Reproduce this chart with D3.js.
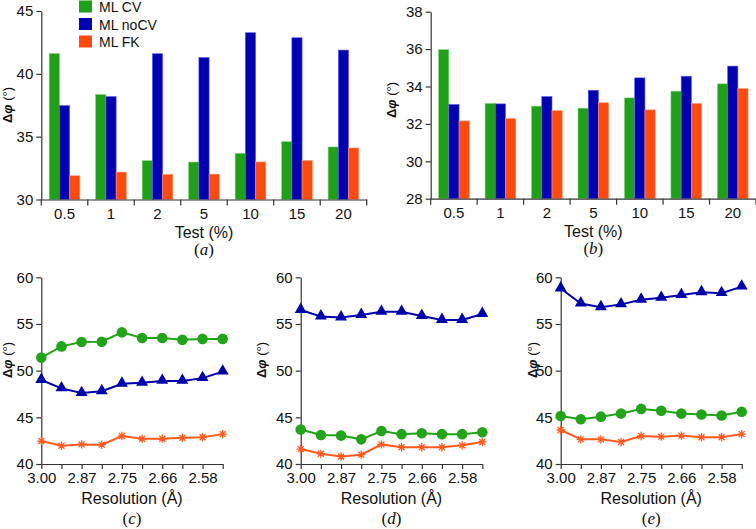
<!DOCTYPE html>
<html><head><meta charset="utf-8">
<script src="https://cdn.jsdelivr.net/npm/d3@7"></script>
<style>
html,body{margin:0;padding:0;background:#fff;}
svg{display:block;}
text{font-family:"Liberation Sans",Arial,sans-serif;fill:#111;}
</style></head><body>
<svg id="chart" width="756" height="529"></svg>
<script>
// ---- data ----
const tests = ["0.5","1","2","5","10","15","20"];
const seriesNames = ["ML CV","ML noCV","ML FK"];
const aCV   = [41.62, 38.35, 33.09, 32.98, 33.67, 34.60, 34.18];
const aNoCV = [37.47, 38.19, 41.60, 41.30, 43.27, 42.87, 41.89];
const aFK   = [31.89, 32.18, 32.00, 32.02, 32.99, 33.10, 34.10];
const bCV   = [35.97, 33.09, 32.95, 32.84, 33.39, 33.75, 34.14];
const bNoCV = [33.04, 33.07, 33.46, 33.80, 34.46, 34.55, 35.09];
const bFK   = [32.16, 32.29, 32.71, 33.13, 32.75, 33.09, 33.89];
const aTicks = [30, 35, 40, 45];
const bTicks = [28, 30, 32, 34, 36, 38];

const resolution = ["3.00","2.93","2.87","2.81","2.75","2.70","2.66","2.62","2.58","2.54"];
const resShown = ["3.00","2.87","2.75","2.66","2.58"];
const lineTicks = [40, 45, 50, 55, 60];
const cCV   = [51.4, 52.6, 53.07, 53.1, 54.1, 53.5, 53.5, 53.3, 53.4, 53.4];
const cNoCV = [49.0, 48.1, 47.6, 47.8, 48.6, 48.7, 48.9, 48.9, 49.2, 49.9];
const cFK   = [42.46, 41.96, 42.1, 42.07, 43.0, 42.7, 42.7, 42.8, 42.86, 43.2];
const dCV   = [43.7, 43.1, 43.04, 42.64, 43.54, 43.2, 43.3, 43.2, 43.2, 43.4];
const dNoCV = [56.5, 55.8, 55.7, 55.96, 56.3, 56.3, 55.86, 55.43, 55.43, 56.07];
const dFK   = [41.6, 41.1, 40.8, 41.0, 42.1, 41.8, 41.8, 41.8, 42.0, 42.36];
const eCV   = [45.14, 44.8, 45.07, 45.4, 45.9, 45.7, 45.4, 45.3, 45.2, 45.6];
const eNoCV = [58.8, 57.2, 56.8, 57.1, 57.6, 57.8, 58.1, 58.4, 58.3, 59.0];
const eFK   = [43.64, 42.64, 42.64, 42.36, 43.0, 42.93, 43.04, 42.86, 42.86, 43.2];

const barColors = ["#1f9f1a", "#0000b0", "#ff4a10"];
const barEdges  = ["#7cd877", "#5a5aff", "#ff9a70"];
const lineColors = ["#22a31a", "#0000aa", "#ff5a1f"];

const svg = d3.select("#chart");
const axisColor = "#333";

function yLabel(g, x, y) {
  const t = g.append("text").attr("transform", `translate(${x},${y}) rotate(-90)`)
    .attr("text-anchor", "middle").attr("font-size", 13).attr("font-weight", "bold");
  t.append("tspan").text("Δ");
  t.append("tspan").attr("font-style", "italic").text("φ");
  t.append("tspan").attr("font-weight", "normal").text(" (°)");
}
function caption(x, y, letter) {
  const t = svg.append("text").attr("x", x).attr("y", y).attr("text-anchor", "middle")
    .style("font-family", "'Liberation Serif','Times New Roman',serif").attr("font-size", 17);
  t.append("tspan").text("(");
  t.append("tspan").attr("font-style", "italic").text(letter);
  t.append("tspan").text(")");
}
function styleAxis(g) {
  g.selectAll("path.domain").attr("stroke", axisColor).attr("stroke-width", 1.2);
  g.selectAll(".tick line").attr("stroke", axisColor).attr("stroke-width", 1.2);
  g.selectAll(".tick text").attr("font-size", 15).attr("fill", "#111")
   .style("font-family", "'Liberation Sans',Arial,sans-serif");
}

function barPanel(opt) {
  const {x0px, x1px, yTop, yBot, dom, ticks, data, letter, ylx, yly} = opt;
  const x0 = d3.scaleBand().domain(tests).range([x0px, x1px]).padding(0);
  const x1 = d3.scaleBand().domain(seriesNames)
    .range([x0.bandwidth() * 0.17, x0.bandwidth() * 0.83]).padding(0);
  const y = d3.scaleLinear().domain(dom).range([yBot, yTop]);
  const g = svg.append("g");
  tests.forEach((t, i) => {
    seriesNames.forEach((s, j) => {
      const v = data[j][i];
      g.append("rect")
        .attr("x", x0(t) + x1(s)).attr("width", x1.bandwidth())
        .attr("y", y(v)).attr("height", y(dom[0]) - y(v))
        .attr("fill", barColors[j]).attr("stroke", barEdges[j]).attr("stroke-width", 0.6);
    });
  });
  const ya = g.append("g").attr("transform", `translate(${x0px},0)`)
    .call(d3.axisLeft(y).tickValues(ticks).tickSize(5).tickSizeOuter(0).tickFormat(d3.format("d")));
  styleAxis(ya);
  const xa = g.append("g").attr("transform", `translate(0,${yBot})`)
    .call(d3.axisBottom(x0).tickSize(0).tickSizeOuter(0).tickPadding(9));
  styleAxis(xa);
  const bounds = tests.map(t => x0(t)).concat([x0px + x0.step() * tests.length]);
  xa.selectAll("line.bnd").data(bounds).join("line").attr("class", "bnd")
    .attr("x1", d => d).attr("x2", d => d).attr("y1", 0).attr("y2", 6)
    .attr("stroke", axisColor).attr("stroke-width", 1.2);
  g.append("text").attr("x", (x0px + x1px) / 2).attr("y", yBot + 38.5)
    .attr("text-anchor", "middle").attr("font-size", 16).text("Test (%)");
  yLabel(g, ylx, yly);
  caption((x0px + x1px) / 2, yBot + 55.5, letter);
}

barPanel({x0px: 41.3, x1px: 366.7, yTop: 11, yBot: 199.5, dom: [30, 45], ticks: aTicks,
  data: [aCV, aNoCV, aFK], letter: "a", ylx: 12, yly: 105});
barPanel({x0px: 430.7, x1px: 756, yTop: 11.7, yBot: 198.7, dom: [28, 38], ticks: bTicks,
  data: [bCV, bNoCV, bFK], letter: "b", ylx: 396, yly: 100});

// legend in panel (a)
const leg = svg.append("g");
seriesNames.forEach((s, j) => {
  const yy = 0.5 + j * 17.5;
  leg.append("rect").attr("x", 79).attr("y", yy).attr("width", 13).attr("height", 12)
    .attr("fill", barColors[j]);
  leg.append("text").attr("x", 99).attr("y", yy + 11.5).attr("font-size", 14).text(s);
});

function asteriskPath(r) {
  const a = r * Math.SQRT1_2;
  return `M${-r},0L${r},0M0,${-r}L0,${r}M${-a},${-a}L${a},${a}M${-a},${a}L${a},${-a}`;
}

function linePanel(opt) {
  const {x0px, x1px, series, letter, ylx} = opt;
  const yTop = 277.3, yBot = 464;
  const x = d3.scalePoint().domain(resolution).range([x0px, x1px]).padding(0);
  const y = d3.scaleLinear().domain([40, 60]).range([yBot, yTop]);
  const g = svg.append("g");
  const ya = g.append("g").attr("transform", `translate(${x0px},0)`)
    .call(d3.axisLeft(y).tickValues(lineTicks).tickSize(5).tickSizeOuter(0));
  styleAxis(ya);
  const xa = g.append("g").attr("transform", `translate(0,${yBot})`)
    .call(d3.axisBottom(x).tickSize(5).tickSizeOuter(0).tickPadding(3)
      .tickFormat(d => resShown.includes(d) ? d : ""));
  styleAxis(xa);
  const line = d3.line().x((d, i) => x(resolution[i])).y(d => y(d));
  const order = [2, 1, 0];
  order.forEach(j => {
    const vals = series[j];
    g.append("path").datum(vals).attr("d", line).attr("fill", "none")
      .attr("stroke", lineColors[j]).attr("stroke-width", 2);
    vals.forEach((v, i) => {
      const px = x(resolution[i]), py = y(v);
      if (j === 0) {
        g.append("circle").attr("cx", px).attr("cy", py).attr("r", 5.3).attr("fill", lineColors[0]);
      } else if (j === 1) {
        g.append("path").attr("transform", `translate(${px},${py - 0.5})`)
          .attr("d", d3.symbol(d3.symbolTriangle, 62)()).attr("fill", lineColors[1]);
      } else {
        g.append("path").attr("transform", `translate(${px},${py})`)
          .attr("d", asteriskPath(4.2)).attr("stroke", lineColors[2]).attr("stroke-width", 1.3)
          .attr("fill", "none");
      }
    });
  });
  const mid = (x0px + x1px) / 2;
  g.append("text").attr("x", mid).attr("y", yBot + 40).attr("text-anchor", "middle")
    .attr("font-size", 16).text("Resolution (Å)");
  yLabel(g, ylx, 360);
  caption(mid, yBot + 60, letter);
}

linePanel({x0px: 41.3, x1px: 222.7, series: [cCV, cNoCV, cFK], letter: "c", ylx: 12});
linePanel({x0px: 300.7, x1px: 482.3, series: [dCV, dNoCV, dFK], letter: "d", ylx: 266});
linePanel({x0px: 560.7, x1px: 741.7, series: [eCV, eNoCV, eFK], letter: "e", ylx: 537});
</script></body></html>
